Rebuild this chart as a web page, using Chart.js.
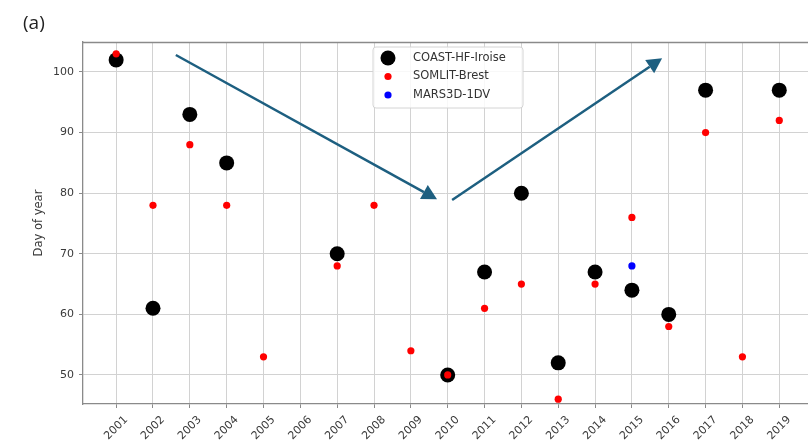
<!DOCTYPE html>
<html>
<head>
<meta charset="utf-8">
<script src="https://cdn.jsdelivr.net/npm/chart.js@4/dist/chart.umd.min.js"></script>
<style>
  html, body { margin: 0; padding: 0; background: #fff; overflow: hidden; }
  canvas { display: block; }
</style>
</head>
<body>
<canvas id="chart" width="808" height="442"></canvas>
<script>
// Years on the x axis
const years = [2001, 2002, 2003, 2004, 2005, 2006, 2007, 2008, 2009, 2010,
               2011, 2012, 2013, 2014, 2015, 2016, 2017, 2018, 2019];

// Day of year per source (null = no estimate for that year)
const coastHF = [102, 61, 93, 85, null, null, 70, null, null, 50,
                 67, 80, 52, 67, 64, 60, 97, null, 97];
const somlit  = [103, 78, 88, 78, 53, null, 68, 78, 54, 50,
                 61, 65, 46, 65, 76, 58, 90, 53, 92];
const mars3d  = [null, null, null, null, null, null, null, null, null, null,
                 null, null, null, null, 68, null, null, null, null];

const seriesNames = ['COAST-HF-Iroise', 'SOMLIT-Brest', 'MARS3D-1DV'];

// Axis ticks and ranges
const yTicks = [50, 60, 70, 80, 90, 100];
const xRange = [2000.1, 2019.78];
const yRange = [45.21, 104.95];

// Trend arrows, in data units: [x0, y0, x1, y1]
const trendArrows = [
  [2002.62, 102.8, 2009.71, 78.99],
  [2010.12, 78.88, 2015.82, 102.26]
];

const spineColor = '#8a8a8a';
const gridColor = '#d2d2d2';
const textColor = '#3a3a3a';
const arrowColor = '#1d5f80';
const markerColors = ['#000000', '#ff0000', '#0000ff'];
const markerRadii = [7.5, 3.6, 3.6];

function toPoints(values) {
  const pts = [];
  values.forEach((v, i) => { if (v !== null) pts.push({ x: years[i], y: v }); });
  return pts;
}

const overlay = {
  id: 'overlay',
  afterDraw(chart) {
    const { ctx, chartArea: a, scales: { x, y } } = chart;
    ctx.save();

    // top spine
    ctx.strokeStyle = spineColor;
    ctx.lineWidth = 1.3;
    ctx.beginPath();
    ctx.moveTo(a.left, a.top + 0.5);
    ctx.lineTo(a.right, a.top + 0.5);
    ctx.stroke();

    // rotated year labels
    ctx.font = '11px "DejaVu Sans"';
    ctx.fillStyle = textColor;
    ctx.textAlign = 'center';
    ctx.textBaseline = 'middle';
    years.forEach(v => {
      const px = x.getPixelForValue(v);
      ctx.save();
      ctx.translate(px, a.bottom + 24);
      ctx.rotate(-Math.PI / 4);
      ctx.fillText(String(v), 0, 0);
      ctx.restore();
    });

    // y axis title
    ctx.font = '11.5px "DejaVu Sans"';
    ctx.save();
    ctx.translate(39, (a.top + a.bottom) / 2);
    ctx.rotate(-Math.PI / 2);
    ctx.fillText('Day of year', 0, 0);
    ctx.restore();

    // panel label
    ctx.font = '19px "Open Sans"';
    ctx.fillStyle = '#222';
    ctx.textAlign = 'left';
    ctx.textBaseline = 'alphabetic';
    ctx.fillText('(a)', 23, 28.5);

    // trend arrows
    const headLen = 15, headHalf = 8;
    ctx.strokeStyle = arrowColor;
    ctx.fillStyle = arrowColor;
    ctx.lineWidth = 2.5;
    trendArrows.forEach(([x0, y0, x1, y1]) => {
      const sx = x.getPixelForValue(x0), sy = y.getPixelForValue(y0);
      const tx = x.getPixelForValue(x1), ty = y.getPixelForValue(y1);
      const len = Math.hypot(tx - sx, ty - sy);
      const ux = (tx - sx) / len, uy = (ty - sy) / len;
      const bx = tx - ux * headLen, by = ty - uy * headLen;
      ctx.beginPath();
      ctx.moveTo(sx, sy);
      ctx.lineTo(bx, by);
      ctx.stroke();
      ctx.beginPath();
      ctx.moveTo(tx, ty);
      ctx.lineTo(bx - uy * headHalf, by + ux * headHalf);
      ctx.lineTo(bx + uy * headHalf, by - ux * headHalf);
      ctx.closePath();
      ctx.fill();
    });

    // legend box
    const lx = 373, ly = 47, lw = 150, lh = 61, r = 3;
    ctx.beginPath();
    ctx.moveTo(lx + r, ly);
    ctx.arcTo(lx + lw, ly, lx + lw, ly + lh, r);
    ctx.arcTo(lx + lw, ly + lh, lx, ly + lh, r);
    ctx.arcTo(lx, ly + lh, lx, ly, r);
    ctx.arcTo(lx, ly, lx + lw, ly, r);
    ctx.closePath();
    ctx.fillStyle = 'rgba(255,255,255,0.85)';
    ctx.fill();
    ctx.strokeStyle = '#d4d4d4';
    ctx.lineWidth = 1;
    ctx.stroke();

    ctx.font = '11.5px "DejaVu Sans"';
    ctx.textBaseline = 'middle';
    ctx.textAlign = 'left';
    seriesNames.forEach((name, i) => {
      const rowY = 58 + i * 18.5;
      ctx.beginPath();
      ctx.arc(388, rowY, markerRadii[i], 0, Math.PI * 2);
      ctx.fillStyle = markerColors[i];
      ctx.fill();
      ctx.fillStyle = '#333';
      ctx.fillText(name, 413, rowY);
    });

    ctx.restore();
  }
};

const gridCfg = { color: gridColor, tickColor: spineColor, tickLength: 4, lineWidth: 1 };
const borderCfg = { color: spineColor, width: 1.3 };

new Chart(document.getElementById('chart'), {
  type: 'scatter',
  data: {
    datasets: [
      { label: seriesNames[0], data: toPoints(coastHF), backgroundColor: markerColors[0],
        borderWidth: 0, pointRadius: markerRadii[0], order: 2 },
      { label: seriesNames[1], data: toPoints(somlit), backgroundColor: markerColors[1],
        borderWidth: 0, pointRadius: markerRadii[1], order: 1 },
      { label: seriesNames[2], data: toPoints(mars3d), backgroundColor: markerColors[2],
        borderWidth: 0, pointRadius: markerRadii[2], order: 0 }
    ]
  },
  options: {
    responsive: false,
    animation: false,
    devicePixelRatio: 1,
    layout: { autoPadding: false, padding: { left: 0, right: 0, top: 42, bottom: 0 } },
    plugins: { legend: { display: false }, tooltip: { enabled: false } },
    scales: {
      x: {
        type: 'linear',
        min: xRange[0],
        max: xRange[1],
        afterBuildTicks: s => { s.ticks = years.map(v => ({ value: v })); },
        afterFit: s => { s.height = 38; },
        ticks: { display: false },
        grid: gridCfg,
        border: borderCfg
      },
      y: {
        min: yRange[0],
        max: yRange[1],
        afterBuildTicks: s => { s.ticks = yTicks.map(v => ({ value: v })); },
        afterFit: s => { s.width = 83; },
        ticks: { font: { family: 'DejaVu Sans', size: 11 }, color: textColor, padding: 5 },
        grid: gridCfg,
        border: borderCfg
      }
    }
  },
  plugins: [overlay]
});
</script>
</body>
</html>
